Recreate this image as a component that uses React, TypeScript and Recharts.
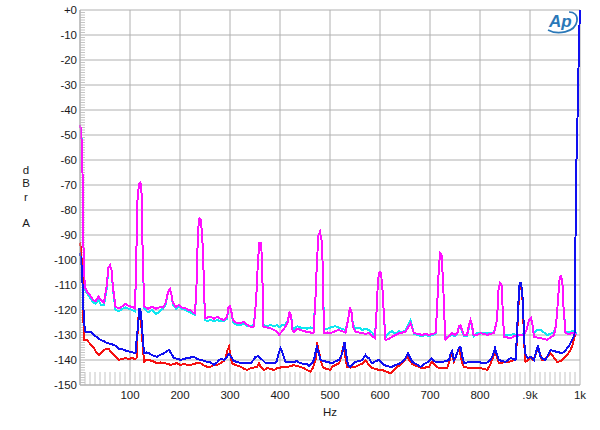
import { LineChart, Line, XAxis, YAxis, CartesianGrid, ReferenceLine } from "recharts";

// ── Data (Hz, dBrA) ────────────────────────────────────────────

const cyanTrace: [number, number][] = [
  [0, -46], [2, -48], [4, -54], [5, -65], [6, -80], [7, -95], [8, -106], [10, -112], [15, -113.5], [20, -115],
  [26, -117], [31, -117.5], [37, -116], [42, -118], [48, -118], [53, -112], [57, -103], [60, -102], [63, -104], [66, -112],
  [71, -120], [78, -120.5], [85, -119.5], [91, -119], [98, -119.5], [104, -120], [110, -120.5], [112, -104], [115, -76], [118, -69.5],
  [121, -69], [123, -73], [126, -104], [129, -119.5], [136, -121], [144, -120], [152, -121.5], [158, -121], [161, -120], [166, -119.5],
  [171, -118], [176, -113], [180, -111.5], [183, -114], [186, -118], [192, -119.5], [198, -118.5], [204, -119.5], [211, -120], [216, -120.5],
  [221, -121], [226, -121.5], [230, -122], [233, -110], [236, -88], [239, -83.3], [242, -84], [245, -93], [247, -104], [250, -124],
  [255, -124.5], [261, -124], [268, -124.5], [274, -124], [281, -124.5], [288, -124.5], [294, -123.5], [297, -119], [300, -118.5], [303, -121],
  [306, -125], [314, -126], [321, -126], [328, -125.5], [335, -126.5], [341, -126.5], [347, -126], [350, -122], [353, -113], [356, -100],
  [359, -93], [362, -93], [364, -100], [367, -126], [374, -126.5], [381, -126], [388, -126.5], [394, -126], [398, -127], [404, -126],
  [410, -126], [415, -124.5], [419, -121], [422, -122], [425, -127], [428, -127.5], [435, -126.5], [441, -127], [448, -127], [454, -127.5],
  [461, -127], [467, -127.5], [471, -115], [474, -100], [477, -90], [480, -88.7], [483, -92], [485, -100], [488, -127.5], [495, -127.5],
  [501, -127], [510, -126.5], [517, -127], [524, -127.5], [531, -128], [536, -124], [540, -118.7], [543, -121], [546, -126], [551, -127.5],
  [558, -127], [564, -128], [571, -127.5], [578, -128], [584, -129], [590, -130.5], [593, -121], [596, -108], [599, -104.7], [602, -105],
  [605, -112], [608, -122.7], [611, -131], [618, -129], [624, -128.5], [631, -129.5], [638, -128.5], [645, -129], [651, -128], [656, -126],
  [661, -124], [664, -126.5], [668, -129.5], [676, -130], [684, -130.5], [691, -130], [698, -130.5], [705, -130], [711, -129.5], [714, -120],
  [717, -106], [720, -97.3], [723, -98], [726, -108], [729, -124], [731, -131], [738, -130.5], [744, -130], [751, -130.5], [755, -129],
  [758, -127], [761, -126.5], [764, -128.5], [768, -130.5], [774, -130.5], [778, -127], [781, -124.5], [784, -126.5], [787, -130.5], [794, -129],
  [801, -129.5], [808, -129], [814, -129.5], [821, -129], [828, -129], [834, -124], [837, -112], [840, -109.3], [843, -110], [846, -122],
  [848, -130], [855, -130], [861, -130], [868, -129.5], [874, -130.5], [881, -130], [888, -129.5], [893, -128], [898, -124], [902, -123.3],
  [905, -126], [908, -129.5], [914, -128], [921, -128], [928, -129], [934, -130], [941, -129.5], [948, -129], [952, -126], [955, -118.7],
  [959, -108], [962, -106], [965, -110], [967, -118.7], [971, -128.5], [978, -129], [984, -128.5], [990, -128], [992, -129.5],
];

const magentaTrace: [number, number][] = [
  [0, -46], [2, -48], [4, -55], [5, -65], [6, -80], [7, -95], [8, -105], [10, -111], [15, -113], [20, -114],
  [26, -116], [31, -116.5], [37, -114.7], [42, -116], [48, -117], [53, -111], [57, -103], [60, -102], [63, -104], [66, -111],
  [71, -118.7], [78, -119.3], [85, -118.5], [91, -117.6], [98, -118.5], [104, -118.7], [110, -119.3], [112, -104], [115, -76], [118, -69.5],
  [121, -69], [123, -73], [126, -104], [129, -118.7], [136, -119.5], [144, -118.7], [152, -119.5], [161, -118.7], [166, -119], [171, -117.3],
  [176, -113], [180, -111.5], [183, -114], [186, -117.3], [192, -118.7], [198, -118], [204, -119], [211, -119.3], [216, -120], [221, -120],
  [226, -121], [230, -121.3], [233, -110], [236, -88], [239, -83.3], [242, -84], [245, -93], [247, -104], [250, -123.3], [255, -123],
  [261, -122.7], [268, -123.5], [274, -122.7], [281, -123.5], [288, -124], [294, -123], [297, -119], [300, -118.5], [303, -121], [306, -124],
  [314, -125.3], [321, -125.3], [328, -124.7], [335, -126], [341, -126.7], [347, -126.7], [350, -122], [353, -113], [356, -100], [359, -93],
  [362, -93], [364, -100], [367, -126.7], [374, -127], [381, -127.3], [388, -128], [394, -128.7], [398, -130], [404, -128.5], [410, -127],
  [415, -125], [419, -121], [422, -122], [425, -128], [428, -128.7], [435, -127.5], [441, -128], [448, -128.5], [454, -128.7], [461, -129],
  [467, -129.3], [471, -115], [474, -100], [477, -90], [480, -88.7], [483, -92], [485, -100], [488, -129.3], [495, -129], [501, -129.3],
  [510, -128.5], [517, -128], [524, -128.5], [531, -129], [536, -124], [540, -118.7], [543, -121], [546, -126.7], [551, -128.7], [558, -129],
  [564, -129.3], [571, -129.5], [578, -129.3], [584, -130.5], [590, -131.3], [593, -121], [596, -108], [599, -104.7], [602, -105], [605, -112],
  [608, -122.7], [611, -132], [618, -131.5], [624, -130.7], [631, -130], [638, -129.3], [645, -129], [651, -128.7], [656, -127], [661, -125.3],
  [664, -127], [668, -129.3], [676, -129.5], [684, -130], [691, -129.5], [698, -130], [705, -129.5], [711, -129.3], [714, -120], [717, -106],
  [720, -97.3], [723, -98], [726, -108], [729, -124], [731, -132], [738, -130.5], [744, -129.3], [751, -130], [755, -129], [758, -126.5],
  [761, -126], [764, -128], [768, -130], [774, -130], [778, -126], [781, -124], [784, -126], [787, -130], [794, -130], [801, -129.3],
  [808, -129.5], [814, -130], [821, -129.5], [828, -129.3], [834, -124], [837, -112], [840, -109.3], [843, -110], [846, -122], [848, -130.7],
  [855, -131], [861, -131.3], [868, -130.5], [874, -130], [881, -130], [888, -130], [893, -128], [898, -124], [902, -123.3], [905, -126],
  [908, -130.7], [914, -131], [921, -131.3], [928, -131.5], [934, -132], [941, -131], [948, -130], [952, -126], [955, -118.7], [959, -108],
  [962, -106], [965, -110], [967, -118.7], [971, -129.3], [978, -129.5], [984, -129.3], [990, -129.3], [992, -130],
];

const redTrace: [number, number][] = [
  [0, -93], [2, -96], [4, -102], [5, -106.7], [7, -125], [8, -132], [14, -132], [20, -133.5], [28, -135.3], [33, -137],
  [38, -138], [43, -137], [48, -136], [53, -135.5], [58, -135.7], [63, -137], [68, -138], [73, -139], [78, -140], [84, -139.5],
  [91, -139.3], [98, -139.5], [104, -139.3], [110, -139.5], [113, -139.3], [116, -125], [118, -120.5], [120, -120], [122, -124], [124, -130],
  [128, -140.7], [133, -140], [138, -140], [146, -140.5], [154, -141.3], [161, -141], [168, -141.3], [175, -141.5], [181, -142], [188, -141.5],
  [194, -141.3], [201, -142], [208, -141.5], [214, -142], [221, -142], [228, -141.5], [234, -141.3], [241, -141.3], [248, -142.2], [254, -142.7],
  [261, -142.7], [268, -142], [274, -142], [281, -141.3], [288, -140.3], [291, -139.3], [295, -136], [298, -134.7], [301, -138], [304, -141.3],
  [311, -142], [321, -142.7], [328, -143.5], [334, -144], [341, -143.3], [348, -143], [354, -142.7], [358, -141.3], [362, -143], [368, -144],
  [374, -143.3], [381, -143.5], [388, -144], [394, -143.3], [401, -143], [408, -142.7], [414, -142.7], [421, -142.5], [428, -142], [434, -142.5],
  [441, -142.7], [448, -143.3], [454, -144], [461, -144.7], [466, -143], [471, -140], [474, -132.7], [477, -136], [480, -138.7], [484, -142],
  [488, -143.3], [494, -143.5], [501, -144], [504, -142.7], [511, -142], [518, -141.3], [522, -139], [525, -136], [528, -134], [531, -139],
  [534, -142.7], [541, -143], [551, -142.7], [558, -142], [564, -141.5], [571, -140], [576, -141.5], [584, -143.3], [591, -143.5], [598, -144],
  [604, -144], [611, -144.5], [617, -145], [621, -145.3], [626, -144.5], [631, -143.5], [634, -142.7], [641, -142], [648, -140.5], [654, -138.7],
  [658, -140], [664, -141.5], [668, -142], [675, -142.5], [684, -143.3], [691, -143], [698, -142.7], [704, -140.7], [708, -141.5], [712, -142.5],
  [718, -143.3], [726, -143.3], [734, -143.3], [738, -141], [741, -138.7], [744, -137.3], [748, -140.7], [751, -139], [754, -137], [758, -136],
  [761, -138], [765, -141.5], [768, -142.7], [774, -143], [781, -143.3], [791, -143.3], [801, -143.3], [808, -143.5], [814, -144], [819, -142.5],
  [824, -140], [830, -136.7], [834, -139], [838, -141.3], [845, -141], [851, -140.7], [858, -140.7], [864, -140.3], [871, -140], [874, -132],
  [876, -121.3], [879, -112], [881, -110], [884, -113], [886, -118.7], [888, -132], [891, -140.7], [896, -140], [901, -139.3], [906, -140],
  [911, -138], [916, -135.3], [920, -137.5], [924, -140], [931, -139.5], [936, -138.5], [941, -137.3], [948, -139], [954, -140.7], [961, -140.5],
  [966, -139.5], [971, -138.7], [976, -137.5], [981, -136], [985, -134], [989, -130.7], [991, -130],
];

const blueTrace: [number, number][] = [
  [0, -97], [2, -100], [4, -104], [6, -114.7], [8, -125], [11, -128.7], [16, -129], [21, -128.7], [28, -130], [35, -131],
  [41, -132], [48, -132.5], [54, -133.3], [61, -133.5], [68, -134], [73, -134.5], [78, -135.6], [84, -135.5], [88, -136], [95, -136.5],
  [101, -136.7], [106, -137], [111, -137.3], [114, -130], [116, -126.7], [119, -119.3], [122, -121], [124, -126.7], [128, -137.3], [133, -137],
  [138, -137.3], [144, -138], [150, -138.5], [154, -138.7], [160, -138], [168, -137.3], [173, -136.5], [178, -136], [183, -137.5], [188, -139.3],
  [195, -139.5], [201, -140], [208, -139.5], [214, -139.3], [221, -139], [228, -138.7], [234, -139.5], [241, -140], [248, -140.3], [254, -140.7],
  [261, -141], [268, -142], [274, -141], [278, -140], [284, -139.5], [288, -140], [293, -139], [298, -137.5], [303, -139], [308, -140.5],
  [314, -140.7], [321, -141.3], [328, -141], [334, -141.3], [341, -141.3], [347, -140], [351, -138.7], [356, -138.5], [361, -139.3], [365, -140],
  [370, -141], [374, -141.3], [381, -141.3], [388, -141.3], [393, -140.7], [398, -137], [401, -135.3], [404, -136.7], [408, -139], [411, -140.7],
  [418, -141], [428, -140.7], [434, -140.5], [441, -141.3], [448, -141.5], [454, -141.5], [458, -142.5], [463, -141.5], [468, -140], [471, -137],
  [474, -134.7], [477, -137], [481, -140], [488, -140.5], [494, -140.7], [504, -141.3], [511, -140.5], [518, -140], [522, -138.5], [525, -136.7],
  [529, -132.7], [532, -137.3], [536, -142], [540, -142.7], [546, -141.5], [551, -140.7], [558, -140.5], [564, -140], [568, -139], [571, -138],
  [575, -139], [578, -139.3], [584, -141.3], [591, -140.5], [598, -140], [603, -141], [608, -142], [615, -142.5], [621, -142.7], [624, -142.7],
  [631, -142], [638, -141.5], [644, -140.7], [650, -139.5], [654, -138], [656, -137.3], [660, -139], [664, -140.7], [671, -141.5], [676, -142],
  [681, -142.7], [686, -142], [691, -141.3], [698, -140.5], [703, -139.3], [708, -140.5], [711, -140.7], [718, -140.7], [724, -140.7], [731, -140.5],
  [738, -140], [741, -137.5], [744, -136.5], [748, -140], [751, -139], [754, -137.3], [758, -135], [761, -134.7], [765, -139], [768, -141.3],
  [774, -141], [781, -140.7], [788, -140.7], [794, -140.7], [801, -141], [808, -141.3], [814, -141], [821, -140], [826, -138], [830, -135.3],
  [834, -138], [838, -140], [845, -140.5], [851, -140.7], [856, -140], [861, -139.3], [866, -139.5], [871, -140], [874, -130], [876, -120],
  [879, -110], [881, -108.7], [884, -112], [886, -117.3], [888, -130], [890, -137.3], [895, -139.3], [901, -138.7], [905, -139.5], [908, -140],
  [912, -137], [916, -134], [919, -137], [921, -138.7], [926, -139.5], [931, -140], [936, -138], [941, -136], [948, -136.5], [954, -136.7],
  [959, -137], [964, -137.3], [970, -136.5], [974, -135.3], [979, -134], [984, -132], [989, -130], [991, -91], [993, -60], [996, -35],
  [998, -12], [1000, 0],
];

const xTicks = [0, 100, 200, 300, 400, 500, 600, 700, 800, 900, 1000];
const xTickLabels = ["", "100", "200", "300", "400", "500", "600", "700", "800", ".9k", "1k"];
const yTicks = [0, -10, -20, -30, -40, -50, -60, -70, -80, -90, -100, -110, -120, -130, -140, -150];

// minor ticks drawn inside the frame, AP style (every 10 Hz / 1 dB)
const xMinorTicks = Array.from({ length: 99 }, (_, i) => (i + 1) * 10).filter((v) => v % 100 !== 0);
const yMinorTicks = Array.from({ length: 149 }, (_, i) => -(i + 1)).filter((v) => v % 10 !== 0);

const toPoints = (trace: [number, number][]) => trace.map(([hz, db]) => ({ hz, db }));

const FONT = '"Liberation Sans", Arial, sans-serif';
const tickStyle = { fill: "#1a1a1a", fontSize: 11.5, fontFamily: FONT };
const MINOR = "#c4c4c4";

function ApLogo() {
  return (
    <svg width={36} height={26} style={{ position: "absolute", left: 545, top: 9 }}>
      <text x={4} y={18} fontFamily={FONT} fontSize={17} fontStyle="italic" fontWeight="bold" fill="#2a78b8">
        Ap
      </text>
      <path d="M3 21 C 12 26, 30 24, 32 12 C 33 6, 29 3, 24 3" fill="none" stroke="#2a78b8" strokeWidth={1.6} />
    </svg>
  );
}

const traceProps = {
  dataKey: "db",
  strokeWidth: 2,
  dot: false,
  activeDot: false,
  isAnimationActive: false,
  shapeRendering: "crispEdges",
} as const;

export default function App() {
  return (
    <div style={{ position: "absolute", left: 0, top: 0, width: 600, height: 430, background: "#fff", fontFamily: FONT }}>
      <LineChart width={600} height={430} margin={{ top: 10, right: 20, bottom: 15, left: 0 }}>
        <CartesianGrid stroke="#b0b0b0" strokeWidth={1} />
        <XAxis
          dataKey="hz"
          type="number"
          domain={[0, 1000]}
          ticks={xTicks}
          interval={0}
          height={30}
          tickLine={false}
          tickSize={4}
          tickMargin={2}
          axisLine={{ stroke: "#b0b0b0" }}
          tick={tickStyle}
          tickFormatter={(v: number) => xTickLabels[xTicks.indexOf(v)] ?? ""}
        />
        <YAxis
          type="number"
          domain={[-150, 0]}
          ticks={yTicks}
          interval={0}
          width={80}
          tickLine={false}
          tickSize={1}
          tickMargin={2}
          axisLine={{ stroke: "#b0b0b0" }}
          tick={tickStyle}
          tickFormatter={(v: number) => (v === 0 ? "+0" : String(v))}
        />
        {xMinorTicks.map((hz) => (
          <ReferenceLine
            key={`xm${hz}`}
            segment={[{ x: hz, y: -150 }, { x: hz, y: -144.8 }]}
            stroke={MINOR}
            strokeWidth={1}
          />
        ))}
        {yMinorTicks.map((db) => (
          <ReferenceLine
            key={`ym${db}`}
            segment={[{ x: 0, y: db }, { x: 10, y: db }]}
            stroke={MINOR}
            strokeWidth={1}
          />
        ))}
        <Line data={toPoints(cyanTrace)} stroke="#10e6f0" {...traceProps} />
        <Line data={toPoints(magentaTrace)} stroke="#ff10ff" {...traceProps} />
        <Line data={toPoints(redTrace)} stroke="#f51010" {...traceProps} />
        <Line data={toPoints(blueTrace)} stroke="#1010f0" {...traceProps} />
      </LineChart>

      <div style={{ position: "absolute", left: 19, top: 164, width: 14, textAlign: "center", fontSize: 11.5, lineHeight: "13.3px", color: "#1a1a1a" }}>
        d<br />B<br />r<br />&nbsp;<br />A
      </div>
      <div style={{ position: "absolute", left: 300, top: 406, width: 60, textAlign: "center", fontSize: 11.5, color: "#1a1a1a" }}>
        Hz
      </div>
      <ApLogo />
    </div>
  );
}
